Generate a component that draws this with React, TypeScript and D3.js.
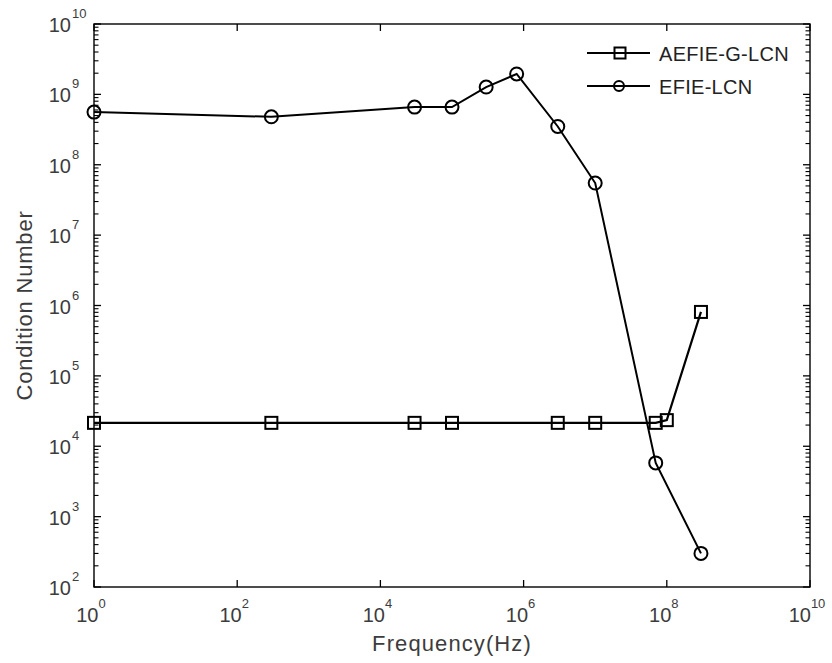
import React from "react";
import * as d3 from "d3";

// Frequency sweep (Hz) and condition numbers for each formulation
const freqAefie = [1, 300, 3e4, 1e5, 3e6, 1e7, 7e7, 1e8, 3e8];
const condAefie = [2.15e4, 2.15e4, 2.15e4, 2.15e4, 2.15e4, 2.15e4, 2.15e4, 2.35e4, 8.1e5];
const freqEfie = [1, 300, 3e4, 1e5, 3e5, 8e5, 3e6, 1e7, 7e7, 3e8];
const condEfie = [5.6e8, 4.8e8, 6.6e8, 6.6e8, 1.27e9, 1.95e9, 3.5e8, 5.5e7, 5.8e3, 3e2];

const xTickExps = [0, 2, 4, 6, 8, 10];
const yTickExps = [2, 3, 4, 5, 6, 7, 8, 9, 10];
const seriesNames = ["AEFIE-G-LCN", "EFIE-LCN"];

const W = 832;
const H = 663;
const left = 94;
const right = 810;
const top = 24;
const bottom = 587;
const FONT = "'Liberation Sans', Arial, Helvetica, sans-serif";
const TEXT = "#3c3c3c";

export default function App() {
  const x = d3.scaleLog().domain([1, 1e10]).range([left, right]);
  const y = d3.scaleLog().domain([1e2, 1e10]).range([bottom, top]);

  const line = d3
    .line<[number, number]>()
    .x((d) => x(d[0]))
    .y((d) => y(d[1]));

  const ptsA: [number, number][] = freqAefie.map((f, i) => [f, condAefie[i]]);
  const ptsE: [number, number][] = freqEfie.map((f, i) => [f, condEfie[i]]);

  // minor ticks on the y axis: 2..9 within each decade
  const yMinor: number[] = [];
  for (let e = 2; e < 10; e++) {
    for (let m = 2; m <= 9; m++) yMinor.push(m * Math.pow(10, e));
  }

  const sq = 12;
  const cr = 6.5;

  return (
    <svg
      width={W}
      height={H}
      style={{ position: "absolute", left: 0, top: 0, background: "#fff" }}
      fontFamily={FONT}
    >
      <rect x={0} y={0} width={W} height={H} fill="#fff" />

      {/* y ticks, left and right */}
      {yTickExps.map((e) => {
        const yy = y(Math.pow(10, e));
        return (
          <g key={"ym" + e} stroke="#000" strokeWidth={1.3}>
            <line x1={left} x2={left + 7} y1={yy} y2={yy} />
            <line x1={right} x2={right - 7} y1={yy} y2={yy} />
          </g>
        );
      })}
      {yMinor.map((v, i) => {
        const yy = y(v);
        return (
          <g key={"yn" + i} stroke="#000" strokeWidth={1.1}>
            <line x1={left} x2={left + 4.5} y1={yy} y2={yy} />
            <line x1={right} x2={right - 4.5} y1={yy} y2={yy} />
          </g>
        );
      })}

      {/* x ticks, bottom and top */}
      {xTickExps.map((e) => {
        const xx = x(Math.pow(10, e));
        return (
          <g key={"xm" + e} stroke="#000" strokeWidth={1.3}>
            <line x1={xx} x2={xx} y1={bottom} y2={bottom - 7} />
            <line x1={xx} x2={xx} y1={top} y2={top + 7} />
          </g>
        );
      })}

      {/* axes box */}
      <rect
        x={left}
        y={top}
        width={right - left}
        height={bottom - top}
        fill="none"
        stroke="#000"
        strokeWidth={1.4}
      />

      {/* x tick labels */}
      {xTickExps.map((e) => {
        const xx = x(Math.pow(10, e));
        return (
          <text key={"xl" + e} x={xx - 3} y={622} fill={TEXT} fontSize={20} textAnchor="middle">
            10
            <tspan dy={-14} fontSize={13}>
              {e}
            </tspan>
          </text>
        );
      })}

      {/* y tick labels */}
      {yTickExps.map((e) => {
        const yy = y(Math.pow(10, e));
        return (
          <text key={"yl" + e} x={71} y={yy + 8} fill={TEXT} fontSize={20} textAnchor="end">
            10
            <tspan x={72} dy={-14} fontSize={13} textAnchor="start">
              {e}
            </tspan>
          </text>
        );
      })}

      {/* axis titles */}
      <text
        x={(left + right) / 2}
        y={651}
        fill={TEXT}
        fontSize={22}
        letterSpacing={1.1}
        textAnchor="middle"
      >
        Frequency(Hz)
      </text>
      <text
        transform={`translate(32, ${(top + bottom) / 2}) rotate(-90)`}
        fill={TEXT}
        fontSize={22}
        letterSpacing={0.8}
        textAnchor="middle"
      >
        Condition Number
      </text>

      {/* series lines */}
      <path d={line(ptsA) ?? ""} fill="none" stroke="#000" strokeWidth={2.2} />
      <path d={line(ptsE) ?? ""} fill="none" stroke="#000" strokeWidth={2} />

      {/* markers */}
      {ptsA.map((p, i) => (
        <rect
          key={"sa" + i}
          x={x(p[0]) - sq / 2}
          y={y(p[1]) - sq / 2}
          width={sq}
          height={sq}
          fill="none"
          stroke="#000"
          strokeWidth={2}
        />
      ))}
      {ptsE.map((p, i) => (
        <circle
          key={"ce" + i}
          cx={x(p[0])}
          cy={y(p[1])}
          r={cr}
          fill="none"
          stroke="#000"
          strokeWidth={2}
        />
      ))}

      {/* legend */}
      <g>
        <line x1={587} x2={650} y1={53} y2={53} stroke="#000" strokeWidth={2.2} />
        <rect x={620 - 5.5} y={53 - 5.5} width={11} height={11} fill="none" stroke="#000" strokeWidth={2} />
        <text x={659} y={61} fill="#222" fontSize={20} letterSpacing={0.3}>
          {seriesNames[0]}
        </text>
        <line x1={587} x2={650} y1={86} y2={86} stroke="#000" strokeWidth={2.2} />
        <circle cx={619} cy={86} r={5} fill="none" stroke="#000" strokeWidth={2} />
        <text x={659} y={94} fill="#222" fontSize={20} letterSpacing={0.3}>
          {seriesNames[1]}
        </text>
      </g>
    </svg>
  );
}
